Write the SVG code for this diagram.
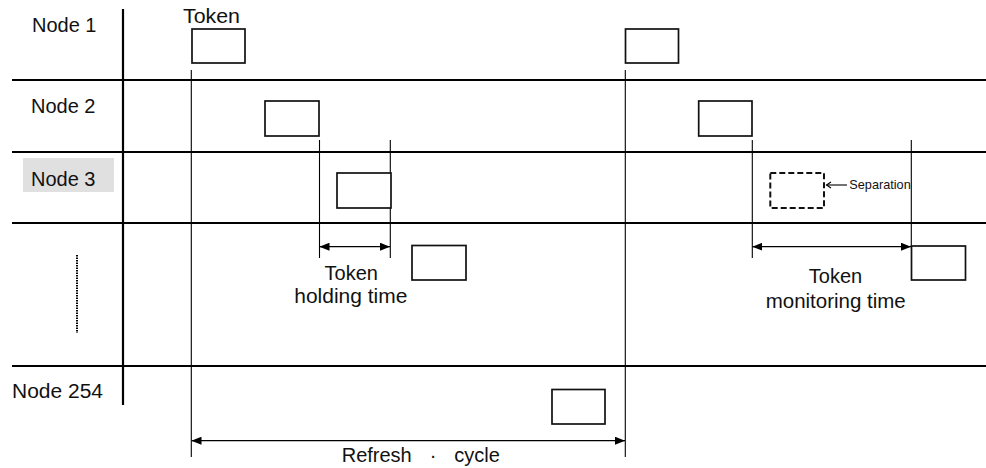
<svg xmlns="http://www.w3.org/2000/svg" width="986" height="468" viewBox="0 0 986 468">
<defs>
<style>
.lbl{font-family:"Liberation Sans",Arial,sans-serif;font-size:20px;fill:#111}
.sm{font-family:"Liberation Sans",Arial,sans-serif;font-size:12.6px;fill:#111}
.grid{stroke:#000;stroke-width:2.2;fill:none}
.thin{stroke:#000;stroke-width:1.1;fill:none}
.box{fill:#fff;stroke:#111;stroke-width:1.7}
.dbox{fill:#fff;stroke:#111;stroke-width:2;stroke-dasharray:6 3}
.dim{stroke:#000;stroke-width:1.2;fill:none;marker-start:url(#ah);marker-end:url(#ah)}
</style>
<marker id="ah" viewBox="0 0 10 8" refX="10" refY="4" markerWidth="10" markerHeight="8" markerUnits="userSpaceOnUse" orient="auto-start-reverse">
<path d="M0,0 L10,4 L0,8 z" fill="#000"/>
</marker>
</defs>
<rect width="986" height="468" fill="#fff"/>
<g id="grid">
<line class="grid" x1="12" y1="80" x2="986" y2="80"/>
<line class="grid" x1="12" y1="152" x2="986" y2="152"/>
<line class="grid" x1="12" y1="223" x2="986" y2="223"/>
<line class="grid" x1="12" y1="366" x2="986" y2="366"/>
<line class="grid" x1="123" y1="9" x2="123" y2="405"/>
<line x1="77" y1="255" x2="77" y2="333" stroke="#000" stroke-width="2" stroke-dasharray="1.5 1"/>
</g>
<g id="label-node1"><text class="lbl" x="32" y="32.3">Node 1</text></g>
<g id="label-node2"><text class="lbl" x="31" y="113.3">Node 2</text></g>
<g id="label-node3"><rect x="23" y="158" width="91" height="34" fill="#e0e0e0"/><text class="lbl" x="31" y="185.7">Node 3</text></g>
<g id="label-node254"><text class="lbl" x="12" y="398.3" textLength="91" lengthAdjust="spacingAndGlyphs">Node 254</text></g>
<g id="label-token"><text class="lbl" x="183" y="23.3" textLength="57" lengthAdjust="spacingAndGlyphs">Token</text></g>
<g id="connectors">
<line class="thin" x1="191.3" y1="70" x2="191.3" y2="457"/>
<line class="thin" x1="625.3" y1="70" x2="625.3" y2="457"/>
<line class="thin" x1="319.5" y1="140" x2="319.5" y2="258"/>
<line class="thin" x1="390.3" y1="140" x2="390.3" y2="258"/>
<line class="thin" x1="752.3" y1="140" x2="752.3" y2="258"/>
<line class="thin" x1="911.3" y1="140" x2="911.3" y2="246"/>
<line class="dim" x1="319.5" y1="246.7" x2="390" y2="246.7"/>
<line class="dim" x1="752.3" y1="246.7" x2="911" y2="246.7"/>
<line class="dim" x1="191.5" y1="440.7" x2="625" y2="440.7"/>
<line class="thin" x1="826.5" y1="185" x2="847" y2="185"/>
<polyline class="thin" points="831,182 826.5,185 831,188"/>
</g>
<g id="token-n1-a"><rect class="box" x="192" y="29" width="53" height="34"/></g>
<g id="token-n1-b"><rect class="box" x="625.5" y="29" width="53" height="34"/></g>
<g id="token-n2-a"><rect class="box" x="265" y="101" width="54" height="35"/></g>
<g id="token-n2-b"><rect class="box" x="698.7" y="101" width="53.3" height="35"/></g>
<g id="token-n3-a"><rect class="box" x="337" y="173" width="54" height="35"/></g>
<g id="token-n3-sep"><rect class="dbox" x="770.3" y="173" width="53.7" height="35"/></g>
<g id="token-n4-a"><rect class="box" x="412" y="245.5" width="54" height="34.5"/></g>
<g id="token-n4-b"><rect class="box" x="911.5" y="246" width="54" height="34"/></g>
<g id="token-n254"><rect class="box" x="552" y="389.5" width="53" height="34.5"/></g>
<g id="text-holding">
<text class="lbl" x="351.3" y="280" text-anchor="middle">Token</text>
<text class="lbl" x="350.8" y="303.3" text-anchor="middle" textLength="113" lengthAdjust="spacingAndGlyphs">holding time</text>
</g>
<g id="text-monitoring">
<text class="lbl" x="835.5" y="283.3" text-anchor="middle">Token</text>
<text class="lbl" x="835.7" y="307.5" text-anchor="middle" textLength="140" lengthAdjust="spacingAndGlyphs">monitoring time</text>
</g>
<g id="text-separation"><text class="sm" x="849.3" y="189" textLength="61.4" lengthAdjust="spacingAndGlyphs">Separation</text></g>
<g id="text-refresh"><text class="lbl" x="420.8" y="461.7" text-anchor="middle" word-spacing="12.4">Refresh · cycle</text></g>
</svg>
